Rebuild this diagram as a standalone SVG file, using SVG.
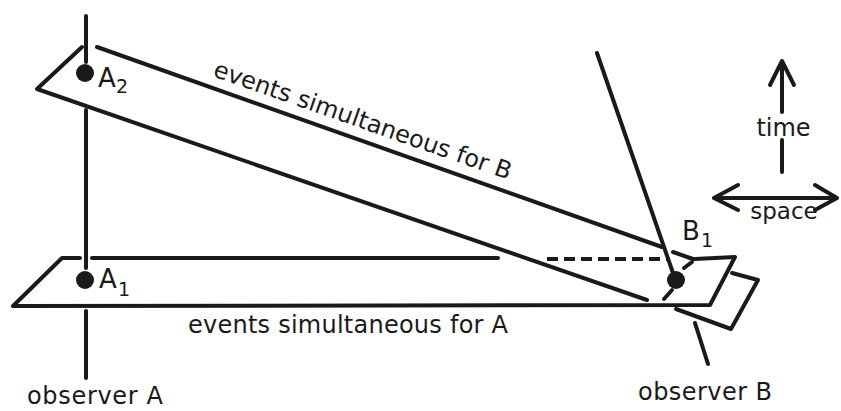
<svg xmlns="http://www.w3.org/2000/svg" width="841" height="411" viewBox="0 0 841 411">
<style>
.s{fill:none;stroke:#1a1a1a;stroke-width:4;stroke-linecap:round;stroke-linejoin:round}
.d{stroke-dasharray:11 6;stroke-linecap:butt}
.dot{fill:#1a1a1a}
text{font-family:"DejaVu Sans","Liberation Sans",sans-serif;fill:#1a1a1a}
.t{font-size:24px}
.lb{font-size:26px}
.sb{font-size:19px}
</style>
<rect width="841" height="411" fill="#ffffff"/>
<g id="plane-B">
<path class="s" d="M82,47 L37,89 L647,300"/>
<path class="s" d="M97,47 L662,247"/>
<path class="s" d="M673,252 L693,259"/>
<path class="s" d="M692,262 L684,268 M672,290 L664,299"/>
<path class="s" d="M732,273 L758,280 L731,329 L676,309"/>
<text class="t" transform="translate(212,76) rotate(19.3)" textLength="314" lengthAdjust="spacing">events simultaneous for B</text>
</g>
<g id="plane-A">
<path class="s" d="M80,258 L62,258 L13,306 L710,305 L735,257 L695,259"/>
<path class="s" d="M92,258 L498,258"/>
<path class="s d" d="M547,259 L668,259"/>
<text class="t" x="188" y="333" textLength="320" lengthAdjust="spacing">events simultaneous for A</text>
</g>
<g id="observer-A">
<path class="s" d="M86,16 L86,62 M86,110 L86,268 M86,311 L86,378"/>
<text class="t" x="27" y="404" textLength="136" lengthAdjust="spacing">observer A</text>
</g>
<g id="event-A2">
<circle class="dot" cx="85" cy="73" r="9"/>
<text class="lb" x="98" y="86.5">A</text>
<text class="sb" x="116" y="93">2</text>
</g>
<g id="event-A1">
<circle class="dot" cx="85" cy="280" r="9"/>
<text class="lb" x="99" y="288">A</text>
<text class="sb" x="118" y="296">1</text>
</g>
<g id="observer-B">
<path class="s" d="M597,53 L673,273 M695,323 L708,364"/>
<text class="t" x="638" y="400" textLength="134" lengthAdjust="spacing">observer B</text>
</g>
<g id="event-B1">
<circle class="dot" cx="676" cy="280" r="9"/>
<text class="lb" x="682" y="239.5">B</text>
<text class="sb" x="701" y="246.5">1</text>
</g>
<g id="axes">
<path class="s" d="M782,61 L782,112 M770,85 L782,61 L794,85 M782,140 L782,172"/>
<text class="t" x="783.5" y="136" text-anchor="middle">time</text>
<path class="s" d="M714,198 L837,198 M738,185 L714,198 L738,210 M815,185 L837,198 L815,210"/>
<text x="784" y="219" text-anchor="middle" font-size="23">space</text>
</g>
</svg>
